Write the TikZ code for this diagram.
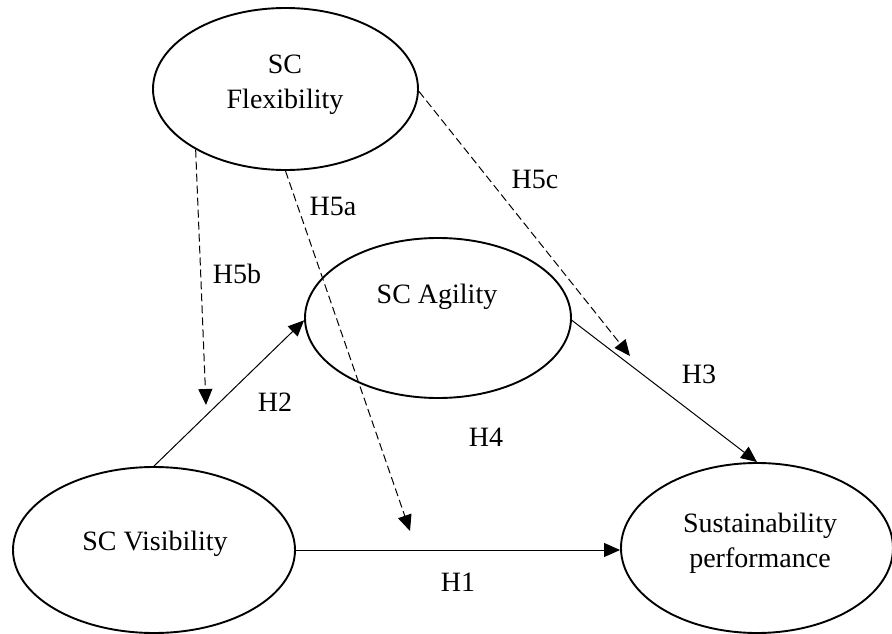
\documentclass[tikz,border=0pt]{standalone}
\usepackage{fontspec}
\setmainfont{Liberation Serif}
\usetikzlibrary{shapes.geometric,arrows.meta}
\begin{document}
\begin{tikzpicture}[x=1pt,y=-1pt,
  construct/.style={draw, ellipse, line width=1.9pt, inner sep=0pt},
  txt/.style={font=\fontsize{28}{35}\selectfont, inner sep=0pt, align=center},
  lbl/.style={font=\fontsize{28}{35}\selectfont, inner sep=0pt, anchor=base},
  solidarrow/.style={line width=1pt, -{Triangle[length=16pt,width=14pt]}},
  dasharrow/.style={solidarrow, dash pattern=on 8pt off 4pt}]
\useasboundingbox (0,0) rectangle (892,634);
% constructs
\node[construct, minimum width=265pt, minimum height=162pt] (flex) at (285.5,89) {};
\node[construct, minimum width=266pt, minimum height=160pt] (agil) at (438,318) {};
\node[construct, minimum width=282pt, minimum height=166pt] (vis) at (154,550) {};
\node[construct, minimum width=272pt, minimum height=170pt] (sus) at (757,548) {};
% texts
\node[txt] (flextxt) at (285,84.3) {SC\\Flexibility};
\node[lbl] (agiltxt) at (437,303) {SC Agility};
\node[lbl] (vistxt) at (155,550) {SC Visibility};
\node[txt] (sustxt) at (760,543.5) {Sustainability\\performance};
% free ends of moderating arrows
\coordinate (h5bEnd) at (206,405);
\coordinate (h5aEnd) at (410,531);
\coordinate (h5cEnd) at (630,356);
% connectors
\draw[dasharrow] (flex.-146.6) -- (h5bEnd);
\draw[dasharrow] (flex.south) -- (h5aEnd);
\draw[dasharrow] (flex.-1.5) -- (h5cEnd);
\draw[solidarrow] (vis.north) -- (agil.-179);
\draw[solidarrow] (agil.-1) -- (sus.north);
\draw[solidarrow] (vis.east) -- (vis.east -| sus.west);
% hypothesis labels
\node[lbl] (h5c) at (535,188) {H5c};
\node[lbl] (h5a) at (333,215) {H5a};
\node[lbl] (h5b) at (237,283) {H5b};
\node[lbl] (h2) at (275,411) {H2};
\node[lbl] (h3) at (699,383) {H3};
\node[lbl] (h4) at (486,446) {H4};
\node[lbl] (h1) at (458,591) {H1};
\end{tikzpicture}
\end{document}
